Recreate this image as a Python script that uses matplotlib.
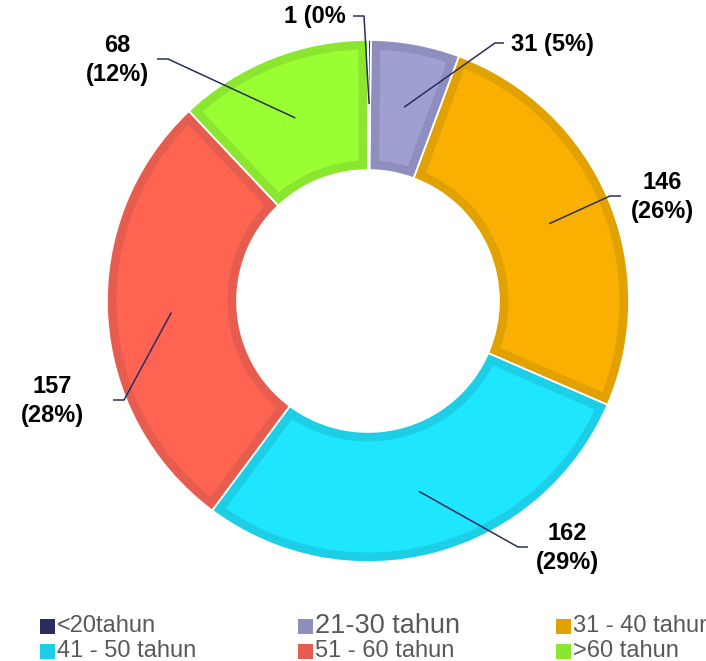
import numpy as np
import matplotlib.pyplot as plt

# data
labels = ["<20tahun", "21-30 tahun", "31 - 40 tahun", "41 - 50 tahun", "51 - 60 tahun", ">60 tahun"]
counts = [1, 31, 146, 162, 157, 68]
fill_colors = ["#2b2d5e", "#9f9fd0", "#fab000", "#1fe6ff", "#ff6352", "#99ff33"]
edge_colors = ["#2b2d5e", "#8e8ebf", "#e1a100", "#1ccfe6", "#e65c4f", "#8ae62e"]

W, H = 706, 661
cx, cy = 368, 301          # pixel coords, y down
R_out, R_in = 261, 131


def P(x, y):
    # pixel (y down) -> data (y up)
    return x, H - y


fig = plt.figure(figsize=(W / 100, H / 100), dpi=100)
ax = fig.add_axes([0, 0, 1, 1])

wedges, _ = ax.pie(counts, colors=fill_colors, startangle=90, counterclock=False,
                   radius=R_out, center=P(cx, cy),
                   wedgeprops=dict(width=R_out - R_in))
for w, ec in zip(wedges, edge_colors):
    w.set_edgecolor(ec)
    w.set_linewidth(19 * 0.72)   # half of it is clipped away -> inner border
    w.set_joinstyle("miter")
    w.set_clip_path(w)
    w.set_clip_on(True)

# thin white gaps between slices
ax.pie(counts, startangle=90, counterclock=False, radius=R_out, center=P(cx, cy),
       wedgeprops=dict(width=R_out - R_in, facecolor="none", edgecolor="white", linewidth=1.2))

# data labels with leader lines
total = sum(counts)
pct = [round(100 * c / total) for c in counts]
texts = ["1 (0%", f"{counts[1]} ({pct[1]}%)"] + [f"{c}\n({p}%)" for c, p in zip(counts[2:], pct[2:])]
# elbow, end of line, text position, alignment (pixel coords)
layout = [
    ((364, 16), (353, 16), (346, 17), "right"),
    ((495, 43), (504, 43), (511, 44), "left"),
    ((610, 196), (621, 196), (662, 197), "center"),
    ((518, 547), (528, 547), (567, 548), "center"),
    ((124, 400), (113, 400), (52, 401), "center"),
    ((168, 59), (157, 59), (117, 60), "center"),
]
navy = "#2b2d5e"
r_mid = (R_out + R_in) / 2 + 1
for w, txt, (elbow, end, tpos, ha) in zip(wedges, texts, layout):
    ang = np.deg2rad((w.theta1 + w.theta2) / 2)
    sx, sy = cx + r_mid * np.cos(ang), cy - r_mid * np.sin(ang)
    xs = [sx, elbow[0], end[0]]
    ys = [H - sy, H - elbow[1], H - end[1]]
    ax.plot(xs, ys, color=navy, lw=1.1, solid_capstyle="butt")
    ax.text(*P(*tpos), txt, ha=ha, va="center", fontsize=17, fontweight="bold",
            family="Liberation Sans", linespacing=1.3, color="black")

# legend
leg_x = [40, 298, 556]
leg_y = [626, 651]
for i, (lab, col) in enumerate(zip(labels, edge_colors)):
    x0 = leg_x[i % 3]
    y0 = leg_y[i // 3]
    ax.add_patch(plt.Rectangle((x0, H - y0 - 7.5), 15, 15, color=col, lw=0))
    size = 19.5 if i == 1 else 17
    ax.text(x0 + 17, H - y0, lab, ha="left", va="center", fontsize=size,
            family=["Liberation Sans Narrow", "Liberation Sans"], color="#595959")

ax.set_xlim(0, W)
ax.set_ylim(0, H)
ax.set_aspect("auto")
ax.axis("off")

fig.savefig("out.png", dpi=100)
